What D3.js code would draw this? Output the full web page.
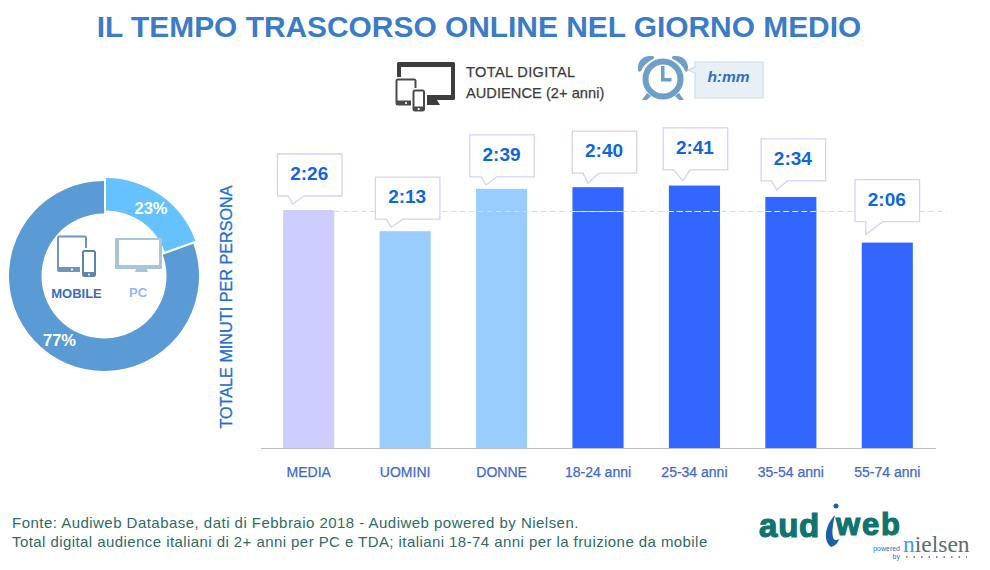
<!DOCTYPE html>
<html><head><meta charset="utf-8">
<script src="https://cdnjs.cloudflare.com/ajax/libs/d3/7.8.5/d3.min.js"></script>
<style>html,body{margin:0;padding:0;background:#fff}svg{display:block}text{font-family:"Liberation Sans",Arial,sans-serif}</style>
</head><body><svg id="c" width="990" height="570"></svg>
<script>
const categories=["MEDIA","UOMINI","DONNE","18-24 anni","25-34 anni","35-54 anni","55-74 anni"];
const minutes=[146,133,159,160,161,154,126];
const timeLabels=["2:26","2:13","2:39","2:40","2:41","2:34","2:06"];
const barColors=["#cdcdfd","#99ccff","#99ccff","#3366ff","#3366ff","#3366ff","#3366ff"];
const deviceNames=["PC","MOBILE"];
const deviceLabels=["23%","77%"];
const drawnShares=[19.5,80.5];
const deviceColors=["#66c2ff","#5b9bd5"];
const calloutDx=[1,2.5,0.5,6.5,1,2.5,0];
const calloutGap=[14,12,12,14,15.6,16,21];
const calloutTipX=[-15.8,-14,-15.5,-10,-11.5,-14.3,-21.5];
const calloutTipGap=[6,4,4,4,4.6,7,8];
const calloutBaseL=[5,5,5,5,9,5,0];
const calloutBaseR=[11,12,11,11,7,11,17];

const svg=d3.select("#c");
const x=d3.scaleBand().domain(categories).range([260.5,935.5]).paddingInner(0.47).paddingOuter(0.235);
const y=d3.scaleLinear().domain([0,146]).range([448,210]);

svg.append("text").attr("x",479).attr("y",36.5).attr("text-anchor","middle").attr("font-size",29.9)
  .attr("font-weight",700).attr("fill","#3a7cc8")
  .text("IL TEMPO TRASCORSO ONLINE NEL GIORNO MEDIO");

// bars
svg.selectAll("rect.bar").data(categories).join("rect").attr("class","bar")
  .attr("x",d=>x(d)).attr("width",x.bandwidth())
  .attr("y",(d,i)=>y(minutes[i])).attr("height",(d,i)=>y(0)-y(minutes[i]))
  .attr("fill",(d,i)=>barColors[i]);

// reference dashed line, average level
const avgY=y(minutes[0])+1.5;
svg.append("line").attr("x1",x("MEDIA")+x.bandwidth()).attr("x2",947).attr("y1",avgY).attr("y2",avgY)
  .attr("stroke","#dcdce0").attr("stroke-width",1).attr("stroke-dasharray","5 4");
categories.forEach((c,i)=>{ if(i>=3) svg.append("line").attr("x1",x(c)).attr("x2",x(c)+x.bandwidth())
  .attr("y1",avgY).attr("y2",avgY).attr("stroke","#eef2ff").attr("stroke-width",1).attr("stroke-dasharray","5 4"); });

// axis
const axis=d3.axisBottom(x).tickSize(0).tickPadding(19);
const ag=svg.append("g").attr("transform",`translate(0,${y(0)})`).call(axis);
ag.select(".domain").attr("stroke","#bdbdbd").attr("stroke-width",1.2);
ag.selectAll("text").attr("font-size",14).attr("fill","#3f68cc").attr("stroke","#3f68cc").attr("stroke-width",0.25)
  .style("font-family",'"Liberation Sans",Arial,sans-serif');

svg.append("text").attr("transform","translate(231.5,307) rotate(-90)").attr("text-anchor","middle")
  .attr("font-size",16.2).attr("fill","#1f6fd0").attr("stroke","#1f6fd0").attr("stroke-width",0.3).text("TOTALE MINUTI PER PERSONA");

// callouts
const bw=64.5,bh=42;
categories.forEach((c,i)=>{
  const cx=x(c)+x.bandwidth()/2+calloutDx[i];
  const b=y(minutes[i])-calloutGap[i], t=b-bh, l=cx-bw/2, r=cx+bw/2;
  const tipX=x(c)+x.bandwidth()/2+calloutTipX[i], tipY=y(minutes[i])-calloutTipGap[i];
  const p=d3.path();
  p.moveTo(l,t);p.lineTo(r,t);p.lineTo(r,b);p.lineTo(tipX+calloutBaseR[i],b);p.lineTo(tipX,tipY);p.lineTo(tipX-calloutBaseL[i],b);p.lineTo(l,b);p.closePath();
  svg.append("path").attr("d",p.toString()).attr("fill","#fff").attr("fill-opacity",0.92).attr("stroke","#d5d2f3").attr("stroke-width",1.3);
  svg.append("text").attr("x",cx-0.5).attr("y",t+26).attr("text-anchor","middle").attr("font-size",19).attr("font-weight",700)
    .attr("fill","#0f66dd").text(timeLabels[i]);
});

// donut
const pie=d3.pie().sort(null).value(d=>d)(drawnShares);
const arc=d3.arc().innerRadius(62.5).outerRadius(95);
const g=svg.append("g").attr("transform","translate(104,276)");
g.selectAll("path").data(pie).join("path").attr("d",arc).attr("fill",(d,i)=>deviceColors[i])
  .attr("transform",(d,i)=>i===0?"translate(2,-3)":null);
svg.append("text").attr("x",151).attr("y",214).attr("text-anchor","middle").attr("font-size",16.5).attr("font-weight",700).attr("fill","#fff").text(deviceLabels[0]);
svg.append("text").attr("x",59.5).attr("y",346).attr("text-anchor","middle").attr("font-size",16.5).attr("font-weight",700).attr("fill","#fff").text(deviceLabels[1]);
svg.append("text").attr("x",76.5).attr("y",297.5).attr("text-anchor","middle").attr("font-size",13).attr("font-weight",700).attr("fill","#3a6fb8").text(deviceNames[1]);
svg.append("text").attr("x",138).attr("y",297).attr("text-anchor","middle").attr("font-size",13).attr("font-weight",700).attr("fill","#8fbce8").text(deviceNames[0]);

function tablet(gp,x0,y0,w,h,col){gp.append("rect").attr("x",x0).attr("y",y0).attr("width",w).attr("height",h).attr("rx",2.5).attr("fill",col);
  gp.append("rect").attr("x",x0+2).attr("y",y0+2).attr("width",w-4).attr("height",h-7).attr("fill","#fff");
  gp.append("circle").attr("cx",x0+w/2).attr("cy",y0+h-2.5).attr("r",1.1).attr("fill","#fff");}
const ic=svg.append("g");
tablet(ic,57,235.5,30,36.5,"#7194bd");
ic.append("rect").attr("x",80).attr("y",248).attr("width",17).attr("height",30).attr("fill","#fff");
tablet(ic,82,250,14,27,"#5f83ad");
ic.append("rect").attr("x",115).attr("y",238).attr("width",47).attr("height",31).attr("rx",1).attr("fill","#a9c5d8");
ic.append("rect").attr("x",119).attr("y",240).attr("width",40).attr("height",25).attr("fill","#fff");
ic.append("path").attr("d","M136 269h11l1 3h-13z").attr("fill","#a9c5d8");

// top icons
const topIcons=svg.append("g");
topIcons.append("rect").attr("x",397).attr("y",62).attr("width",58).attr("height",38).attr("rx",1.5).attr("fill","#3d3d3d");
topIcons.append("rect").attr("x",401).attr("y",67).attr("width",50).attr("height",28).attr("fill","#fff");
topIcons.append("path").attr("d","M425 100h12l3 5h-15z").attr("fill","#3d3d3d");
topIcons.append("rect").attr("x",394).attr("y",77).attr("width",24).attr("height",30).attr("fill","#fff");
tablet(topIcons,395.5,78.5,21,27,"#4a4a4a");
topIcons.append("rect").attr("x",411).attr("y",88).attr("width",16).attr("height",25).attr("fill","#fff");
tablet(topIcons,412.5,89.5,12.5,22,"#4a4a4a");
svg.append("text").attr("x",466).attr("y",77).attr("font-size",14.6).attr("letter-spacing",0.35).attr("fill","#3c3c3c").attr("stroke","#3c3c3c").attr("stroke-width",0.25).text("TOTAL DIGITAL");
svg.append("text").attr("x",466).attr("y",98).attr("font-size",14.6).attr("letter-spacing",0.05).attr("fill","#3c3c3c").attr("stroke","#3c3c3c").attr("stroke-width",0.25).text("AUDIENCE (2+ anni)");
// clock
const ck=svg.append("g").attr("fill","#6f9fc8");
ck.append("path").attr("d","M638 70c-1-9 5-15 14-14 2 0 3 2 1 3-6 3-10 7-12 12-1 1-3 1-3-1zM688 70c1-9-5-15-14-14-2 0-3 2-1 3 6 3 10 7 12 12 1 1 3 1 3-1z");
ck.append("path").attr("d","M647 93l-5 7h5l4-4zM679 93l5 7h-5l-4-4z");
ck.append("circle").attr("cx",663).attr("cy",79).attr("r",17.5).attr("fill","#fff").attr("stroke","#6f9fc8").attr("stroke-width",6);
ck.append("path").attr("d","M661 66h3.5v12h7v3.5h-10.5z");
svg.append("path").attr("d","M695 62h68v36h-68v-25l-7-3 7-3z").attr("fill","#e8f0f6").attr("stroke","#c8dcea").attr("stroke-width",1.2);
svg.append("text").attr("x",728.5).attr("y",82).attr("text-anchor","middle").attr("font-size",15.5).attr("font-weight",700).attr("font-style","italic").attr("fill","#2f6fc4").text("h:mm");

// footer
svg.append("text").attr("x",12).attr("y",528).attr("font-size",15).attr("letter-spacing",0.47).attr("fill","#2f6a66").text("Fonte: Audiweb Database, dati di Febbraio 2018 - Audiweb powered by Nielsen.");
svg.append("text").attr("x",12).attr("y",546.5).attr("font-size",15).attr("letter-spacing",0.43).attr("fill","#2f6a66").text("Total digital audience italiani di 2+ anni per PC e TDA; italiani 18-74 anni per la fruizione da mobile");

// logo
svg.append("text").attr("x",759).attr("y",537).attr("font-size",33).attr("letter-spacing",0.8).attr("font-weight",700).attr("fill","#0f7470").attr("stroke","#0f7470").attr("stroke-width",1.2).text("aud");
svg.append("text").attr("x",836).attr("y",535).attr("font-size",31).attr("textLength",64).attr("font-weight",700).attr("fill","#0f7470").attr("stroke","#0f7470").attr("stroke-width",1.2).text("web");
svg.append("circle").attr("cx",836).attr("cy",506).attr("r",2.5).attr("fill","#1d5fa8");
svg.append("path").attr("d","M835 515C826 524 822 540 831 547C835 546 838 543 839 539C833 543 830 536 835 515z").attr("fill","#1d5fa8");
svg.append("text").attr("x",900).attr("y",551).attr("text-anchor","end").attr("font-size",7).attr("fill","#2f6fc4").text("powered");
svg.append("text").attr("x",900).attr("y",559).attr("text-anchor","end").attr("font-size",7).attr("fill","#2f6fc4").text("by");
const ns=svg.append("text").attr("x",903).attr("y",552).attr("font-size",23.5).attr("fill","#5b6b73").style("font-family","'Liberation Serif',serif");
ns.append("tspan").attr("fill","#3fa0d8").text("n");
ns.append("tspan").text("ielsen");
svg.append("line").attr("x1",906).attr("x2",967).attr("y1",557).attr("y2",557).attr("stroke","#5b6b73").attr("stroke-width",1.5).attr("stroke-dasharray","1.5 6");
</script></body></html>
